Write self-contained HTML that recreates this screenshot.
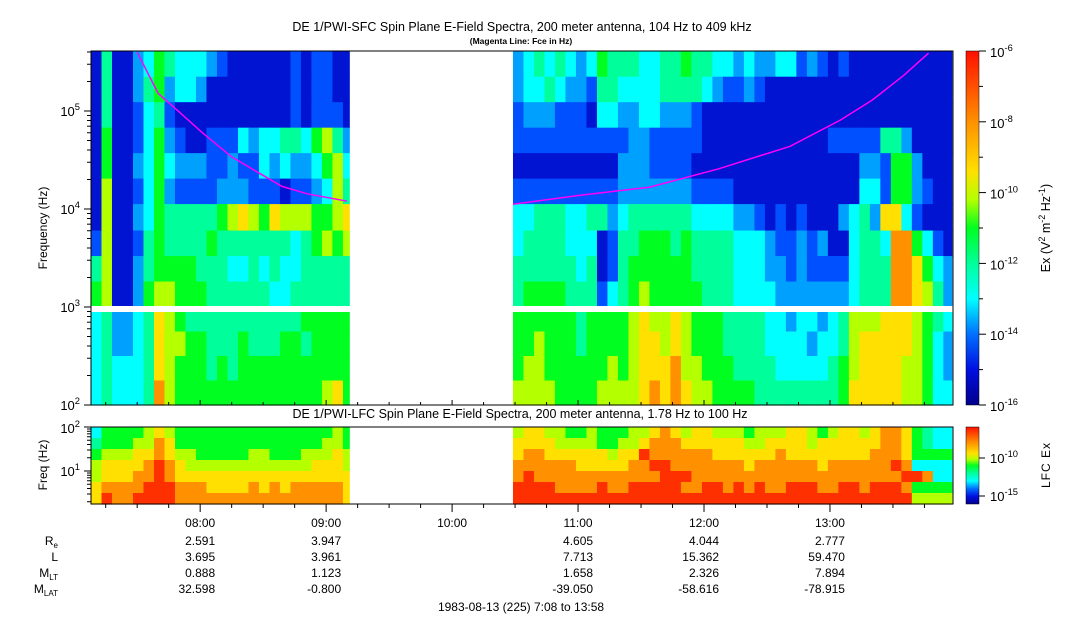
<!DOCTYPE html>
<html><head><meta charset="utf-8"><style>
html,body{margin:0;padding:0;background:#fff;}
svg{display:block;font-family:"Liberation Sans",sans-serif;}
</style></head><body>
<svg id="chart" width="1083" height="620" viewBox="0 0 1083 620" xmlns="http://www.w3.org/2000/svg">
<defs>
<linearGradient id="cbar" x1="0" y1="1" x2="0" y2="0">
<stop offset="0" stop-color="#00008c"/><stop offset="0.1" stop-color="#0010e0"/><stop offset="0.2" stop-color="#0070ff"/><stop offset="0.3" stop-color="#00ffff"/><stop offset="0.4" stop-color="#00ff9a"/><stop offset="0.5" stop-color="#00ff20"/><stop offset="0.58" stop-color="#b4ff00"/><stop offset="0.66" stop-color="#ffe000"/><stop offset="0.8" stop-color="#ff9000"/><stop offset="1" stop-color="#ff1000"/>
</linearGradient>
</defs>
<text x="522" y="31" font-size="12.5" text-anchor="middle">DE 1/PWI-SFC  Spin Plane E-Field Spectra, 200 meter antenna, 104 Hz to 409 kHz</text>
<text x="521" y="44" font-size="8.5" font-weight="bold" text-anchor="middle">(Magenta Line: Fce in Hz)</text>
<text x="520" y="418" font-size="12.5" text-anchor="middle">DE 1/PWI-LFC  Spin Plane E-Field Spectra, 200 meter antenna, 1.78 Hz to 100 Hz</text>
<g id="sfc"></g>
<g id="lfc"></g>
<rect x="91" y="306" width="862" height="6" fill="#fff"/>
<polyline id="fce1" fill="none" stroke="#ff00ff" stroke-width="1.5"/>
<polyline id="fce2" fill="none" stroke="#ff00ff" stroke-width="1.5"/>
<rect x="91" y="51" width="862" height="354" fill="none" stroke="#000" stroke-width="1"/>
<rect x="91" y="427" width="862" height="77" fill="none" stroke="#000" stroke-width="1"/>
<g id="axes" font-size="12"></g>
<text transform="translate(47,228) rotate(-90)" font-size="12" text-anchor="middle">Frequency (Hz)</text>
<text transform="translate(47,465) rotate(-90)" font-size="12" text-anchor="middle">Freq (Hz)</text>
<rect x="966" y="51" width="13" height="354" fill="url(#cbar)" stroke="#000" stroke-width="0.5"/>
<rect x="966" y="427" width="13" height="77" fill="url(#cbar)" stroke="#000" stroke-width="0.5"/>
<text transform="translate(1050,228) rotate(-90)" font-size="12.5" text-anchor="middle">Ex (V<tspan dy="-5" font-size="9">2</tspan><tspan dy="5"> m</tspan><tspan dy="-5" font-size="9">-2</tspan><tspan dy="5"> Hz</tspan><tspan dy="-5" font-size="9">-1</tspan><tspan dy="5">)</tspan></text>
<text transform="translate(1050,465) rotate(-90)" font-size="12" text-anchor="middle" letter-spacing="1">LFC Ex</text>
<g id="info" font-size="12"></g>
<text x="521" y="611" font-size="12" text-anchor="middle">1983-08-13 (225) 7:08 to 13:58</text>
</svg>
<script>
// ---- data ----
const seg1Start = 428;   // minutes since midnight (7:08)
const seg1End = 551;     // 9:11
const seg2Start = 629;   // 10:29
const seg2End = 838;     // 13:58
const binMinutes = 5;
// SFC rows top (high freq) to bottom; levels 0..9,a
const sfcRowLogLo = [5.35,5.09,4.83,4.57,4.31,4.05,3.78,3.52,3.26,3.0, 2.75,2.5,2.25,2.0];
const sfcRowLogHi = [5.61,5.35,5.09,4.83,4.57,4.31,4.05,3.78,3.52,3.26, 3.0,2.75,2.5,2.25];
const sfcSeg1 = [
"1511346544432111111212211",
"1511356344311111111212211",
"1511245211111111111212221",
"1611246321122243445546753",
"1611346433322322434334674",
"1711246322223332221223475",
"1711346555556787687776678",
"2711256555565555555456767",
"5711356666555445454455555",
"6711367766655555544555555",
"4533458765555555555566666",
"4533458776655565556656666",
"4544458766656566666666666",
"4544459766666666666666786"
];
const sfcSeg2 = [
"345454346555445565544343344232121111111111",
"344543325544445555432232111111111111111111",
"233322214433443332111111111111111111111111",
"222222222223322222111111111111222225531111",
"111111111133322221111111111111111332663111",
"222222222233333332222111111111111442663211",
"445554455345555554444332121211134538842111",
"455554441255666565555444322323114554996421",
"555555451256666665555444332322224555998643",
"566665552456766666555444433333334555998753",
"666666566667877876665555443443457778887654",
"667666566667887876665555444434457888887643",
"677666666767888977666555544444567888877643",
"777766667777898987766665555555568888877644"
];
// LFC rows top (100 Hz) to bottom (1.78 Hz)
const lfcRowLogLo = [1.75,1.5,1.25,1.0,0.75,0.5,0.25];
const lfcRowLogHi = [2.0,1.75,1.5,1.25,1.0,0.75,0.5];
const lfcSeg1 = [
"4666678766666666666666676",
"5666779866666666666666776",
"6777889877666667766677787",
"788889a987777777777778887",
"788899a988888888888888888",
"89999aaa99988889898999998",
"8a99aaaa99999999999999998"
];
const lfcSeg2 = [
"788776676667789878877767778876788789986544",
"888877776677899988888877888878888889986544",
"899888888788a99999988888898888888899986666",
"9999998888899aa999999989999998999999a94444",
"9a999999999999aaa99999999999999999999aa944",
"aaaa9999a99aaaaa99aa9a9a99aaa99aa9aaa96666",
"aaaaaaaaaaaaaaaaaaaaaaaaaaaaaaaaaaaaaa7777"
];
// magenta Fce line (time in minutes since midnight, frequency in Hz)
const fceTimes1 = [450, 460, 470, 481, 495, 507, 519, 531, 550];
const fceHz1 = [398000, 151000, 98000, 60000, 34000, 24000, 17000, 14300, 12000];
const fceTimes2 = [629, 661, 694, 727, 761, 785, 800, 815, 827];
const fceHz2 = [11200, 13800, 16700, 25700, 43600, 81000, 129000, 230000, 390000];
const hourTicks = [480, 540, 600, 660, 720, 780];
const hourLabels = ["08:00","09:00","10:00","11:00","12:00","13:00"];
const infoRowLabels = ["R","L","M","M"];
const infoRowSubs = ["e","","LT","LAT"];
const infoTimes = [480, 540, 660, 720, 780];
const infoRe = ["2.591","3.947","4.605","4.044","2.777"];
const infoL = ["3.695","3.961","7.713","15.362","59.470"];
const infoMLT = ["0.888","1.123","1.658","2.326","7.894"];
const infoMLAT = ["32.598","-0.800","-39.050","-58.616","-78.915"];

// ---- scales ----
const NS = "http://www.w3.org/2000/svg";
const X0 = 91, X1 = 953, T0 = 428, T1 = 838.6;
function xScale(t){ return X0 + (t - T0) / (T1 - T0) * (X1 - X0); }
function ySfc(lg){ return 405 - (lg - 2) * 98; }
function yLfc(lg){ return 504 - (lg - 0.25) / 1.75 * 77; }
const palette = {"0":"#00008c","1":"#0014d2","2":"#0050ff","3":"#00a0ff","4":"#00ffff","5":"#00ff9a","6":"#00ff20","7":"#b4ff00","8":"#ffe000","9":"#ff9000","a":"#ff3000"};
function mk(tag, attrs, parent){ const e = document.createElementNS(NS, tag); for (const k in attrs) e.setAttribute(k, attrs[k]); parent.appendChild(e); return e; }

function drawGrid(g, rows, lo, hi, segStart, segEnd, yf, name){
  rows.forEach((row, r) => {
    for (let c = 0; c < row.length; c++){
      const t0 = segStart + c * binMinutes;
      const t1 = Math.min(segEnd, t0 + binMinutes);
      if (t0 >= segEnd) break;
      const xa = xScale(t0), xb = xScale(t1);
      const ya = yf(hi[r]), yb = yf(lo[r]);
      const rc = mk("rect", {x: xa.toFixed(2), y: ya.toFixed(2), width: (xb - xa + 0.6).toFixed(2), height: (yb - ya + 0.6).toFixed(2), fill: palette[row[c]] || "#0014d2"}, g);
      
      
    }
  });
}
const sfc = document.getElementById("sfc"), lfc = document.getElementById("lfc");
drawGrid(sfc, sfcSeg1, sfcRowLogLo, sfcRowLogHi, seg1Start, seg1End, ySfc, "sfc");
drawGrid(sfc, sfcSeg2, sfcRowLogLo, sfcRowLogHi, seg2Start, seg2End, ySfc, "sfc");
drawGrid(lfc, lfcSeg1, lfcRowLogLo, lfcRowLogHi, seg1Start, seg1End, yLfc, "lfc");
drawGrid(lfc, lfcSeg2, lfcRowLogLo, lfcRowLogHi, seg2Start, seg2End, yLfc, "lfc");

function fcePts(ts, hz){ return ts.map((t,i) => xScale(t).toFixed(1) + "," + ySfc(Math.log10(hz[i])).toFixed(1)).join(" "); }
document.getElementById("fce1").setAttribute("points", fcePts(fceTimes1, fceHz1));
document.getElementById("fce2").setAttribute("points", fcePts(fceTimes2, fceHz2));

const ax = document.getElementById("axes");
function line(x1,y1,x2,y2,name){ const l = mk("line",{x1,y1,x2,y2,stroke:"#000","stroke-width":1},ax);   return l; }
function pow(x, y, base, exp, anchor, name, size){
  const t = mk("text",{x, y, "text-anchor": anchor || "end", "font-size": size || 13}, ax);
  
  
  t.appendChild(document.createTextNode(base));
  const s = document.createElementNS(NS,"tspan"); s.setAttribute("dy","-6"); s.setAttribute("font-size", (size||13)*0.72); s.textContent = exp; t.appendChild(s);
}
// SFC y ticks
for (let d = 2; d <= 5; d++){
  for (let m = 1; m <= 9; m++){
    const lg = d + Math.log10(m);
    if (lg > 5.612) break;
    const y = ySfc(lg);
    line(m===1?84:87, y, 91, y, "sfc-y-tick");
  }
  pow(80, ySfc(d)+5, "10", String(d), "end", "sfc-y-tick-label", 13);
}
// LFC y ticks
for (let d = 0; d <= 2; d++){
  for (let m = 1; m <= 9; m++){
    const lg = d + Math.log10(m);
    if (lg < 0.25 || lg > 2.001) continue;
    const y = yLfc(lg);
    line(m===1?84:87, y, 91, y, "lfc-y-tick");
  }
}
pow(80, yLfc(2)+6, "10", "2", "end", "lfc-y-tick-label", 13);
pow(80, yLfc(1)+5, "10", "1", "end", "lfc-y-tick-label", 13);
// time ticks
for (let t = 435; t <= 838; t += 15){
  const x = xScale(t), major = (t % 60 === 0);
  line(x, 504, x, major ? 512 : 508, "time-tick");
  line(x, 405, x, major ? 400 : 402, "sfc-time-tick");
}
hourTicks.forEach((t,i) => {
  const tx = mk("text",{x: xScale(t), y: 527, "text-anchor":"middle"}, ax);
  
  
  tx.textContent = hourLabels[i];
});
// colorbar ticks/labels
const cbExp = ["-6","-8","-10","-12","-14","-16"];
cbExp.forEach((e,i) => {
  const y = 51 + i * 70.8;
  line(979, y, 986, y, "sfc-colorbar-tick");
  if (i < 5) line(979, y + 35.4, 983, y + 35.4, "sfc-colorbar-minor-tick");
  pow(990, y + 6, "10", e, "start", "sfc-colorbar-label", 13);
});
[["-10",458],["-15",496]].forEach(([e,y]) => {
  line(979, y, 985, y, "lfc-colorbar-tick");
  pow(990, y + 5, "10", e, "start", "lfc-colorbar-label", 13);
});
// info table
const info = document.getElementById("info");
const infoRows = [infoRe, infoL, infoMLT, infoMLAT];
const rowY = [545, 561, 577, 593];
infoRows.forEach((vals, r) => {
  const lab = mk("text",{x: 58, y: rowY[r], "text-anchor":"end"}, info);
  
  
  lab.appendChild(document.createTextNode(infoRowLabels[r]));
  if (infoRowSubs[r]){ const s = document.createElementNS(NS,"tspan"); s.setAttribute("dy","3"); s.setAttribute("font-size","8"); s.textContent = infoRowSubs[r]; lab.appendChild(s); }
  vals.forEach((v,i) => {
    const tv = mk("text",{x: xScale(infoTimes[i]) + 15, y: rowY[r], "text-anchor":"end"}, info);
    
    
    tv.textContent = v;
  });
});
</script>
</body></html>
